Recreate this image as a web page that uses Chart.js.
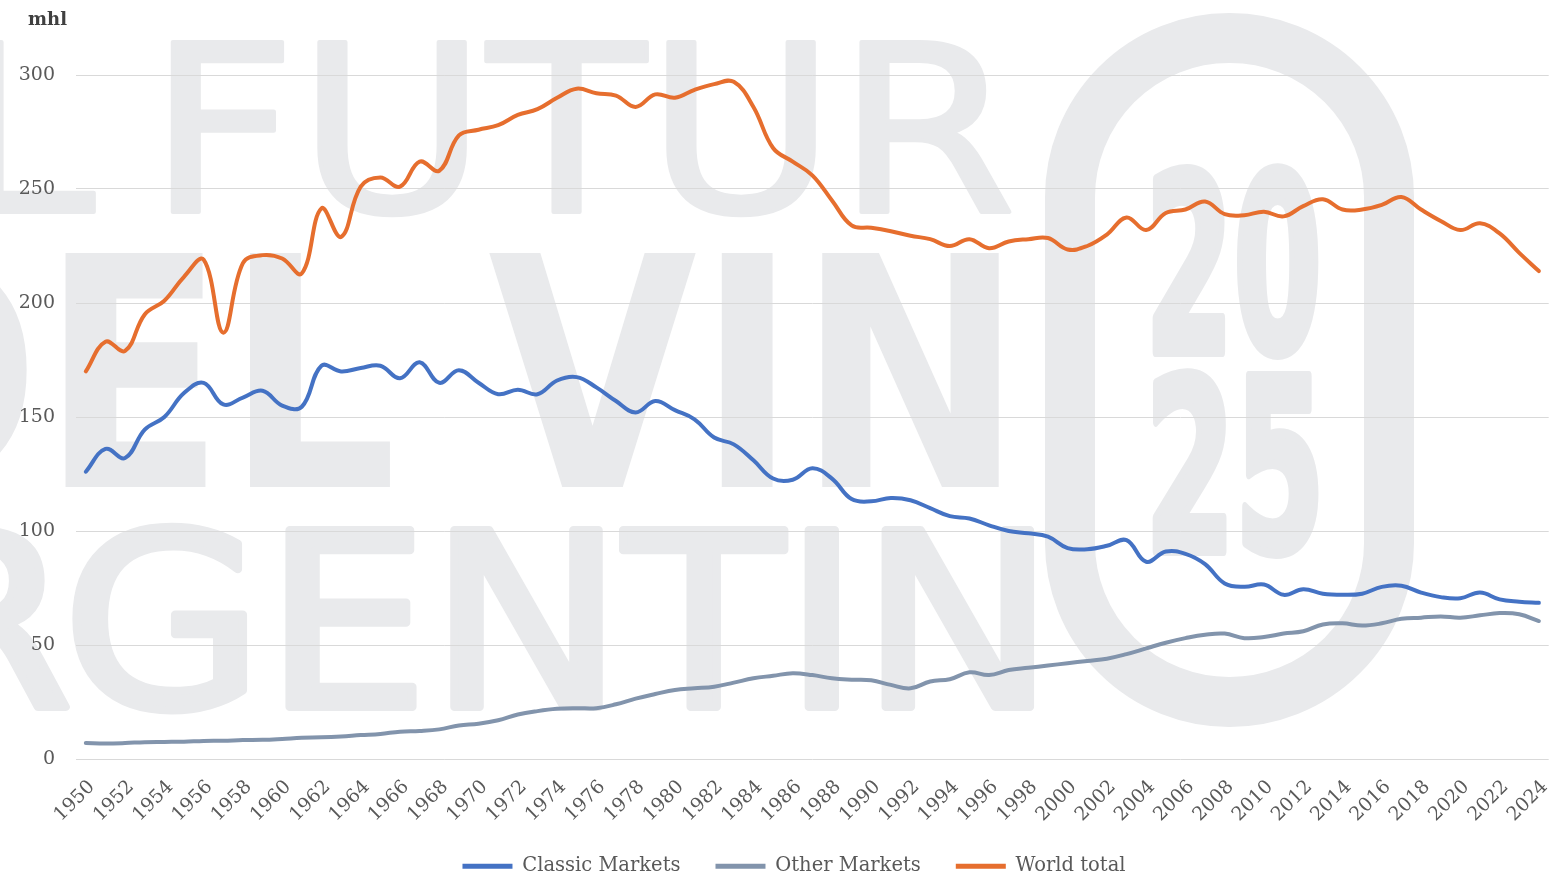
<!DOCTYPE html>
<html>
<head>
<meta charset="utf-8">
<title>Wine consumption, mhl</title>
<script src="https://cdn.jsdelivr.net/npm/chart.js@4.4.1/dist/chart.umd.min.js"></script>
<style>
  html, body { margin: 0; padding: 0; background: #fff; overflow: hidden; }
  #wrap { position: relative; width: 1564px; height: 886px; }
</style>
</head>
<body>
<div id="wrap"><canvas id="chart"></canvas></div>
<script>
const years = [
  '1950', '1951', '1952', '1953', '1954', '1955', '1956', '1957', '1958', '1959',
  '1960', '1961', '1962', '1963', '1964', '1965', '1966', '1967', '1968', '1969',
  '1970', '1971', '1972', '1973', '1974', '1975', '1976', '1977', '1978', '1979',
  '1980', '1981', '1982', '1983', '1984', '1985', '1986', '1987', '1988', '1989',
  '1990', '1991', '1992', '1993', '1994', '1995', '1996', '1997', '1998', '1999',
  '2000', '2001', '2002', '2003', '2004', '2005', '2006', '2007', '2008', '2009',
  '2010', '2011', '2012', '2013', '2014', '2015', '2016', '2017', '2018', '2019',
  '2020', '2021', '2022', '2023', '2024'
];

const classicMarkets = [
  126, 136, 132, 144.5, 150, 160.5, 165, 155.5, 158.5, 161.5,
  155, 154.5, 172.5, 170, 171.5, 172.5, 167, 174, 165, 170.5,
  165, 160, 162, 160, 166, 167.5, 163, 157, 152, 157,
  153, 149, 141, 138, 131, 123, 122.5, 127.5, 123, 114,
  113, 114.5, 113.5, 110, 106.5, 105.5, 102.5, 100, 99, 97.5,
  92.5, 92, 93.5, 96, 86.5, 91, 90, 85.5, 77, 75.5,
  76.5, 72, 74.5, 72.5, 72, 72.5, 75.5, 76, 73, 71,
  70.5, 73, 70, 69, 68.5
];

const otherMarkets = [
  7, 6.8, 7, 7.4, 7.5, 7.6, 7.9, 8, 8.3, 8.4,
  8.8, 9.3, 9.5, 9.9, 10.5, 11, 12, 12.3, 13, 14.7,
  15.5, 17, 19.5, 21, 22, 22.3, 22.3, 24, 26.5, 28.5,
  30.3, 31, 31.7, 33.5, 35.4, 36.5, 37.6, 36.8, 35.4, 34.8,
  34.5, 32.5, 31, 34, 35, 38, 36.8, 39, 40, 41,
  42, 43, 44, 46, 48.5, 51, 53, 54.5, 55, 53,
  53.5, 55, 56, 59, 59.5, 58.5, 59.5, 61.5, 62, 62.5,
  62, 63, 64, 63.5, 60.5
];

const worldTotal = [
  170, 183, 179, 195, 201, 211.5, 219, 187, 217.5, 221,
  219.5, 213, 241.5, 229, 251, 255, 251, 262, 258, 273.5,
  276, 278, 282.5, 285, 290, 294, 292, 291, 286, 291.5,
  290, 293.5, 296, 297, 286, 268, 262, 256, 245, 234,
  233, 231.5, 229.5, 228, 225, 228, 224, 227, 228, 228.5,
  223.5, 225, 230, 237.5, 232, 239.5, 241, 244.5, 239, 238.5,
  240, 238, 242.5, 245.5, 241, 241, 243, 246.5, 241, 236,
  232, 235, 230.5, 222, 214
];

const yTicks = [0, 50, 100, 150, 200, 250, 300];

const serif = "'DejaVu Serif', serif";
const textGrey = '#595959';
const wmGrey = '#E9EAEC';

// a word of the big background lettering, stretched so its ink fills left..right
// prefix is drawn before it, its ink ending at prefixRight
function wmRow(ctx, main, left, right, baseline, cap, weight, extra, prefix, prefixRight) {
  const size = cap / 0.729;
  ctx.font = weight + ' ' + size + "px 'DejaVu Sans'";
  ctx.lineWidth = extra;
  ctx.lineJoin = 'round';
  const m = ctx.measureText(main);
  const inkW = m.actualBoundingBoxLeft + m.actualBoundingBoxRight;
  const sx = (right - left) / inkW;
  ctx.save();
  ctx.translate(left, baseline);
  ctx.scale(sx, 1);
  ctx.textAlign = 'left';
  ctx.fillText(main, m.actualBoundingBoxLeft, 0);
  if (extra) ctx.strokeText(main, m.actualBoundingBoxLeft, 0);
  ctx.restore();
  if (prefix) {
    ctx.save();
    ctx.textAlign = 'right';
    const p = ctx.measureText(prefix);
    ctx.translate(prefixRight, baseline);
    ctx.scale(sx, 1);
    ctx.fillText(prefix, -p.actualBoundingBoxRight, 0);
    if (extra) ctx.strokeText(prefix, -p.actualBoundingBoxRight, 0);
    ctx.restore();
  }
}

const watermark = {
  id: 'watermark',
  beforeDraw(chart) {
    const ctx = chart.ctx;
    ctx.save();
    ctx.fillStyle = '#fff';
    ctx.fillRect(0, 0, chart.width, chart.height);
    ctx.fillStyle = wmGrey;
    ctx.strokeStyle = wmGrey;
    ctx.textBaseline = 'alphabetic';
    wmRow(ctx, 'FUTUR', 172, 1010, 212, 170, 'normal', 4, 'EL', 94);
    wmRow(ctx, 'VIN', 488, 1000, 487, 234, 'bold', 0, 'DEL', 394);
    wmRow(ctx, 'GENTIN', 76, 1030, 707, 177, 'normal', 8, 'AR', 66);
    ctx.lineWidth = 50;
    ctx.beginPath();
    ctx.roundRect(1070, 38, 319, 664, 159);
    ctx.stroke();
    wmRow(ctx, '20', 1155, 1316, 352, 179, 'bold', 10);
    wmRow(ctx, '25', 1155, 1316, 551, 174, 'bold', 10);
    ctx.restore();
  },
  afterDraw(chart) {
    const ctx = chart.ctx;
    ctx.save();
    ctx.font = 'bold 18px ' + serif;
    ctx.fillStyle = '#404040';
    ctx.textAlign = 'left';
    ctx.textBaseline = 'alphabetic';
    ctx.fillText('mhl', 28, 25);
    ctx.restore();
  }
};

// push the legend a bit to the right, like the original
const legendShift = {
  id: 'legendShift',
  afterLayout(chart) {
    chart.legend.left += 12;
    chart.legend.right += 12;
  }
};

new Chart(document.getElementById('chart'), {
  type: 'line',
  data: {
    labels: years,
    datasets: [
      { label: 'Classic Markets', data: classicMarkets, borderColor: '#4472C4', backgroundColor: '#4472C4', pointBorderColor: '#4472C4' },
      { label: 'Other Markets', data: otherMarkets, borderColor: '#8294AC', backgroundColor: '#8294AC', pointBorderColor: '#8294AC' },
      { label: 'World total', data: worldTotal, borderColor: '#E66E2E', backgroundColor: '#E66E2E', pointBorderColor: '#E66E2E' }
    ]
  },
  options: {
    responsive: true,
    maintainAspectRatio: false,
    animation: false,
    devicePixelRatio: 1,
    layout: { padding: { top: 75, left: 0, right: 0, bottom: 0 } },
    elements: {
      line: { borderWidth: 4, tension: 0.4, borderCapStyle: 'round', fill: false },
      point: { radius: 0, hoverRadius: 0, borderWidth: 5 }
    },
    plugins: {
      tooltip: { enabled: false },
      legend: {
        position: 'bottom',
        labels: {
          usePointStyle: true,
          pointStyle: 'line',
          pointStyleWidth: 50,
          padding: 35,
          color: textGrey,
          font: { family: serif, size: 19.5 }
        }
      }
    },
    scales: {
      x: {
        offset: true,
        grid: { display: false },
        border: { display: false },
        afterFit(scale) { scale.height = 62.5; },
        ticks: {
          autoSkip: false,
          minRotation: 45,
          maxRotation: 45,
          padding: 9,
          labelOffset: 6,
          color: textGrey,
          font: { family: serif, size: 19 },
          callback: function (value, index) {
            return index % 2 === 0 ? this.getLabelForValue(value) : '';
          }
        }
      },
      y: {
        min: yTicks[0],
        max: yTicks[yTicks.length - 1],
        afterFit(scale) { scale.width = 76; },
        grid: { color: '#D9D9D9', lineWidth: 1, drawTicks: false },
        border: { display: false },
        ticks: {
          stepSize: yTicks[1] - yTicks[0],
          padding: 21,
          color: textGrey,
          font: { family: serif, size: 19 }
        }
      }
    }
  },
  plugins: [watermark, legendShift]
});
</script>
</body>
</html>
